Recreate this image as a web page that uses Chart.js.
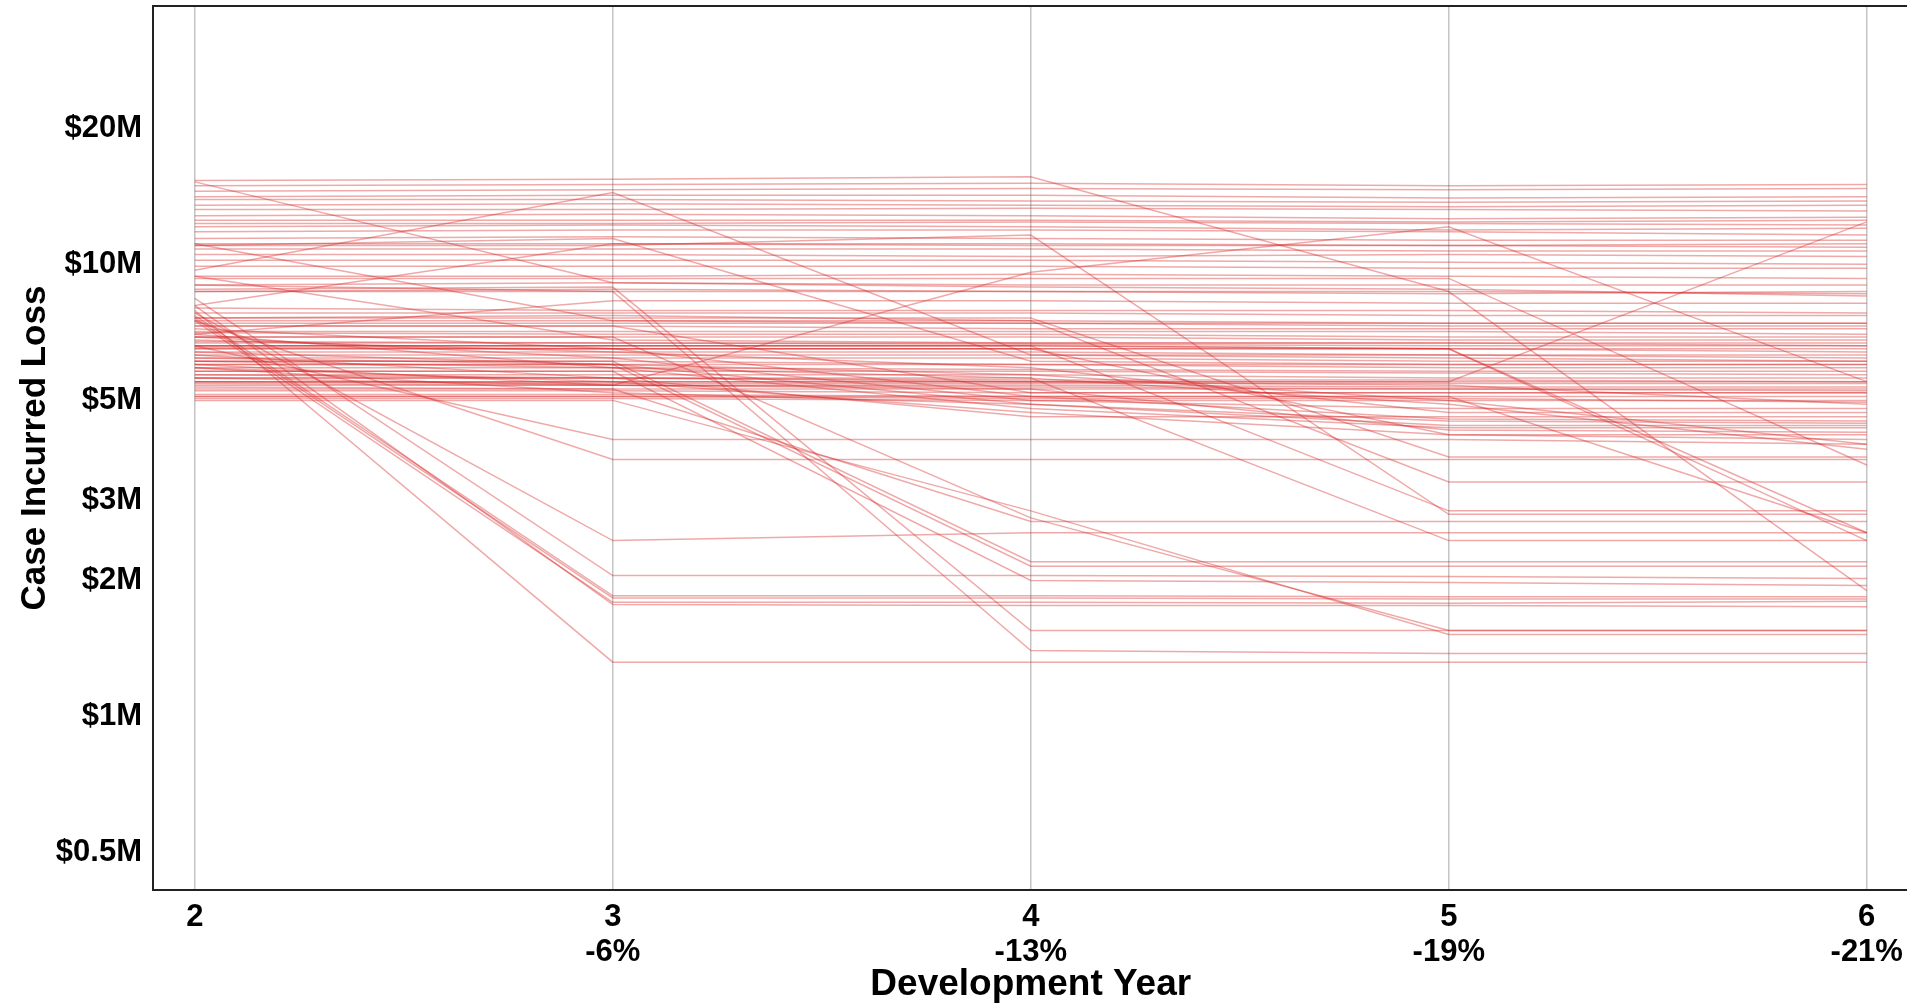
<!DOCTYPE html>
<html>
<head>
<meta charset="utf-8">
<script src="https://cdn.jsdelivr.net/npm/chart.js@4.4.1/dist/chart.umd.min.js"></script>
<style>
  html, body { margin: 0; padding: 0; background: #fff; overflow: hidden; }
  canvas { display: block; }
</style>
</head>
<body>
<canvas id="lossChart" width="1912" height="1005"></canvas>
<script>
// development years and the change in total case incurred vs year 2
var years = [2, 3, 4, 5, 6];
var changes = ['', '-6%', '-13%', '-19%', '-21%'];
var yTicks = [0.5, 1, 2, 3, 5, 10, 20];

// case incurred loss per claim ($M) at development years 2..6
var claims = [
  [15.3, 15.4, 15.6, 8.7, 8.6],
  [15.2, 9.1, 8.9, 8.8, 8.5],
  [14.9, 15.0, 15.1, 14.9, 15.0],
  [14.5, 14.6, 14.7, 14.6, 14.7],
  [14.1, 14.2, 14.2, 14.0, 14.1],
  [13.9, 13.9, 13.8, 13.7, 13.8],
  [13.5, 13.6, 13.5, 13.4, 13.5],
  [13.2, 13.2, 13.3, 13.2, 13.1],
  [12.8, 12.9, 12.8, 12.6, 12.7],
  [12.5, 12.5, 12.5, 12.4, 12.5],
  [12.3, 12.3, 12.4, 12.3, 12.2],
  [12.1, 12.2, 12.1, 11.9, 12.0],
  [11.8, 11.9, 11.9, 11.8, 11.6],
  [11.4, 11.5, 11.4, 11.3, 11.3],
  [11.1, 11.1, 11.1, 11.0, 11.1],
  [11.0, 11.4, 6.1, 6.0, 6.0],
  [11.0, 11.0, 11.6, 2.8, 2.8],
  [10.8, 10.8, 10.8, 10.7, 10.7],
  [10.5, 10.5, 10.4, 10.5, 10.4],
  [10.2, 10.2, 10.2, 10.1, 10.0],
  [9.9, 9.9, 9.9, 9.8, 9.8],
  [9.7, 14.4, 6.3, 6.2, 6.1],
  [5.6, 5.4, 9.6, 12.1, 5.5],
  [9.4, 9.4, 9.5, 9.4, 9.3],
  [9.0, 9.1, 9.0, 9.0, 9.0],
  [8.7, 8.8, 8.7, 8.6, 8.7],
  [8.1, 11.1, 11.0, 11.0, 10.9],
  [8.0, 7.9, 7.9, 7.9, 7.8],
  [7.8, 7.8, 7.8, 7.7, 7.7],
  [7.0, 8.3, 8.3, 8.2, 8.2],
  [9.4, 6.8, 6.7, 6.7, 6.6],
  [11.1, 7.5, 7.5, 7.4, 7.4],
  [7.9, 1.32, 1.32, 1.32, 1.32],
  [7.7, 1.85, 1.85, 1.84, 1.84],
  [7.6, 1.83, 1.83, 1.82, 1.82],
  [7.5, 1.79, 1.79, 1.78, 1.80],
  [8.1, 1.77, 1.76, 1.76, 1.75],
  [8.4, 2.05, 2.05, 2.04, 2.02],
  [7.8, 2.45, 2.55, 2.55, 2.55],
  [7.5, 3.7, 3.7, 3.7, 3.7],
  [6.6, 4.1, 4.1, 4.1, 4.0],
  [8.8, 8.9, 1.55, 1.55, 1.55],
  [9.0, 8.7, 1.40, 1.38, 1.38],
  [6.1, 6.1, 2.2, 2.2, 2.2],
  [6.0, 6.0, 2.15, 2.15, 2.15],
  [5.8, 5.8, 2.0, 1.98, 1.95],
  [5.3, 5.3, 2.7, 2.7, 2.7],
  [5.0, 5.0, 2.85, 1.52, 1.52],
  [7.3, 7.3, 5.2, 5.2, 5.2],
  [7.6, 7.6, 7.6, 3.75, 3.75],
  [7.6, 7.7, 7.5, 3.3, 3.3],
  [6.6, 6.6, 6.6, 2.85, 2.85],
  [5.6, 5.6, 5.6, 2.45, 2.45],
  [6.5, 6.5, 6.5, 4.2, 4.2],
  [6.9, 6.9, 2.75, 1.55, 1.55],
  [9.3, 9.3, 9.3, 9.3, 3.6],
  [8.7, 8.7, 8.7, 8.7, 1.9],
  [6.6, 6.6, 6.6, 6.5, 2.55],
  [6.5, 6.5, 6.5, 6.5, 2.45],
  [5.1, 5.1, 5.1, 5.1, 2.55],
  [6.3, 5.6, 4.6, 4.6, 4.6],
  [6.9, 6.2, 5.0, 4.8, 4.8],
  [5.9, 5.2, 4.9, 4.4, 4.4],
  [6.0, 5.4, 5.3, 4.3, 4.25],
  [6.2, 6.0, 5.7, 5.0, 4.0],
  [5.7, 5.6, 5.5, 5.4, 4.9],
  [6.8, 6.4, 5.9, 4.7, 4.7],
  [7.2, 6.5, 5.1, 4.55, 4.5],
  [6.4, 6.0, 4.9, 4.5, 4.45],
  [7.0, 5.9, 4.8, 4.35, 4.35],
  [5.9, 5.5, 4.7, 4.2, 4.1],
  [6.1, 5.9, 5.6, 4.9, 3.9],
  [5.5, 5.5, 5.5, 5.5, 12.4],
  [7.5, 7.5, 7.4, 7.4, 7.4],
  [7.4, 7.4, 7.4, 7.3, 7.3],
  [7.3, 7.3, 7.2, 7.2, 7.2],
  [7.1, 7.1, 7.1, 7.1, 7.0],
  [7.05, 7.0, 7.0, 6.9, 6.9],
  [6.9, 6.9, 6.9, 6.8, 6.8],
  [6.75, 6.7, 6.65, 6.6, 6.6],
  [6.7, 6.7, 6.7, 6.7, 6.7],
  [6.6, 6.6, 6.6, 6.5, 6.5],
  [6.55, 6.5, 6.5, 6.5, 6.4],
  [6.4, 6.4, 6.4, 6.3, 6.3],
  [6.3, 6.3, 6.3, 6.3, 6.2],
  [6.2, 6.2, 6.2, 6.1, 6.1],
  [6.1, 6.1, 6.0, 6.0, 6.0],
  [6.0, 6.0, 6.0, 5.9, 5.9],
  [5.9, 5.9, 5.85, 5.8, 5.8],
  [5.8, 5.8, 5.8, 5.75, 5.7],
  [5.7, 5.7, 5.7, 5.6, 5.6],
  [5.6, 5.6, 5.55, 5.55, 5.5],
  [5.5, 5.5, 5.5, 5.5, 5.5],
  [5.5, 5.45, 5.45, 5.45, 5.45],
  [5.45, 5.4, 5.35, 5.3, 5.25],
  [5.4, 5.4, 5.4, 5.35, 5.35],
  [5.35, 5.3, 5.3, 5.3, 5.3],
  [5.25, 5.25, 5.2, 5.2, 5.2],
  [5.15, 5.15, 5.1, 5.1, 5.1],
  [5.05, 5.05, 5.0, 5.0, 5.0],
  [5.1, 5.1, 5.05, 5.05, 4.95]
];

var fontFamily = "'Liberation Sans', Arial, sans-serif";

var datasets = claims.map(function (vals) {
  return {
    data: years.map(function (yr, i) { return { x: yr, y: vals[i] }; }),
    borderColor: 'rgba(214, 39, 40, 0.4)',
    borderWidth: 1.5,
    pointRadius: 0,
    tension: 0,
    fill: false
  };
});

// plot frame like the panel border
var frame = {
  id: 'frame',
  afterDraw: function (chart) {
    var a = chart.chartArea, ctx = chart.ctx;
    ctx.save();
    ctx.strokeStyle = '#222';
    ctx.lineWidth = 2;
    ctx.strokeRect(a.left, a.top, a.right - a.left, a.bottom - a.top);
    ctx.restore();
  }
};

var ctx = document.getElementById('lossChart').getContext('2d');

var lossChart = new Chart(ctx, {
  type: 'line',
  data: { datasets: datasets },
  plugins: [frame],
  options: {
    responsive: false,
    animation: false,
    devicePixelRatio: 1,
    layout: { padding: { top: 6, right: 3, bottom: 0, left: 0 } },
    plugins: {
      legend: { display: false },
      tooltip: { enabled: false }
    },
    scales: {
      x: {
        type: 'linear',
        min: 1.9,
        max: 6.1,
        afterBuildTicks: function (s) {
          s.ticks = years.map(function (v) { return { value: v }; });
        },
        afterFit: function (s) { s.height = 115; },
        grid: { color: '#c4c4c4', lineWidth: 1.5, drawTicks: false },
        border: { display: false },
        ticks: {
          padding: 9,
          color: '#000',
          maxRotation: 0,
          font: { family: fontFamily, size: 31, weight: 'bold', lineHeight: 1.16 },
          callback: function (value) {
            var i = years.indexOf(value);
            return changes[i] ? [String(value), changes[i]] : String(value);
          }
        },
        title: {
          display: true,
          text: 'Development Year',
          color: '#000',
          font: { family: fontFamily, size: 37, weight: 'bold', lineHeight: 1 },
          padding: { top: 0, bottom: 2 }
        }
      },
      y: {
        type: 'logarithmic',
        min: 0.414,
        max: 37.2,
        afterBuildTicks: function (s) {
          s.ticks = yTicks.map(function (v) { return { value: v }; });
        },
        afterFit: function (s) {
          s.width = 153;
          s.paddingTop = 0;
          s.paddingBottom = 0;
        },
        grid: { display: false, drawTicks: false },
        border: { display: false },
        ticks: {
          padding: 11,
          color: '#000',
          font: { family: fontFamily, size: 31, weight: 'bold' },
          callback: function (value) { return '$' + value + 'M'; }
        },
        title: {
          display: true,
          text: 'Case Incurred Loss',
          color: '#000',
          font: { family: fontFamily, size: 35, weight: 'bold', lineHeight: 1 },
          padding: { top: 18, bottom: 0 }
        }
      }
    }
  }
});
</script>
</body>
</html>
